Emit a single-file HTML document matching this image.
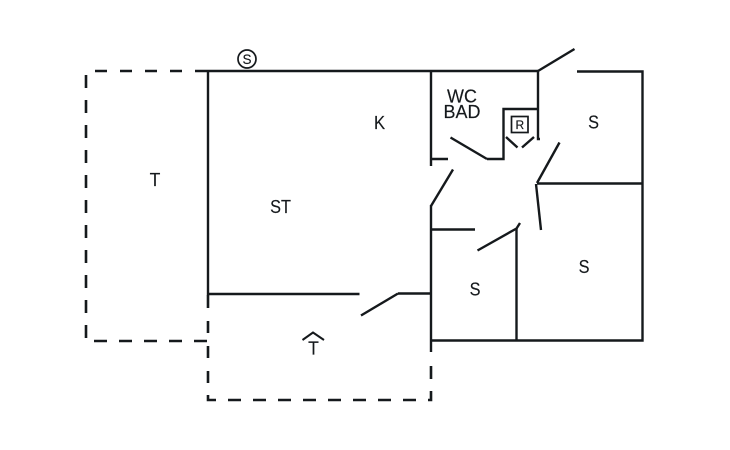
<!DOCTYPE html>
<html>
<head>
<meta charset="utf-8">
<style>
html,body{margin:0;padding:0;background:#fff;width:730px;height:450px;overflow:hidden}
svg{display:block}
text{font-family:"Liberation Sans",sans-serif;fill:#15191c;stroke:#15191c;stroke-width:.15;text-anchor:middle}
.w{stroke:#15191c;stroke-width:2.4;fill:none;stroke-linecap:butt}
.d{stroke:#15191c;stroke-width:2.6;fill:none}
</style>
</head>
<body>
<svg width="730" height="450" viewBox="0 0 730 450" xmlns="http://www.w3.org/2000/svg">
<!-- walls -->
<path class="w" d="M208 71H538V139H540"/>
<path class="w" d="M208 71V294H359.500"/>
<path class="w" d="M431 71V166M431 159H448M431 205V352M431 229.500H475M398 293.500H431"/>
<path class="w" d="M577 71.500H642.500V340.500H431"/>
<path class="w" d="M537 183.500H642M516.500 228V340"/>
<path class="w" d="M538 109H503.500V159H487"/>
<!-- door leaves -->
<path class="w" d="M538 71L574.500 49"/>
<path class="w" d="M450.500 137.500L487 159"/>
<path class="w" d="M431 206L453 169.500"/>
<path class="w" d="M537 183L559.500 142.500"/>
<path class="w" d="M536 184L541 230"/>
<path class="w" d="M477.500 250.500L516.500 228.500L520 223"/>
<path class="w" d="M361 315.500L398 293.500"/>
<path class="w" d="M506 137L517.500 147.500M522 147.500L534 137"/>
<!-- R box -->
<rect x="511.500" y="116.500" width="16.500" height="16" fill="none" stroke="#15191c" stroke-width="1.700"/>
<text x="519.800" y="129" font-size="12">R</text>
<!-- dashed terrace -->
<path class="d" d="M95 71H107M120 71H132M145 71H157M170 71H182M195 71H208"/>
<path class="d" d="M86 75V88M86 100V113M86 125V138M86 150V163M86 175V188M86 200V213M86 225V238M86 250V263M86 275V288M86 300V313M86 325V338"/>
<path class="d" d="M94 341H107M119 341H132M144 341H157M169 341H182M194 341H207"/>
<path class="d" d="M208 295V308M208 321V333M208 346V358M208 371V383M208 395V400H216"/>
<path class="d" d="M228 400H241M253 400H266M278 400H291M303 400H316M328 400H341M353 400H366M378 400H391M403 400H416M428 400H431V391M431 379V366"/>
<!-- S circle -->
<circle cx="247" cy="59" r="9" fill="none" stroke="#15191c" stroke-width="1.700"/>
<text x="247" y="64" font-size="13.500">S</text>
<!-- arrow -->
<path d="M302.500 340L313 332.500L324 340" fill="none" stroke="#15191c" stroke-width="2"/>
<!-- labels -->
<text transform="translate(313.500 354.500) scale(.95 1)" font-size="18.500">T</text>
<text transform="translate(155 186) scale(.95 1)" font-size="18.500">T</text>
<text transform="translate(280.500 213) scale(.88 1)" font-size="18.500">ST</text>
<text transform="translate(379.500 129) scale(.9 1)" font-size="18.500">K</text>
<text transform="translate(462 102.500) scale(.97 1)" font-size="18.500">WC</text>
<text transform="translate(462 118) scale(.97 1)" font-size="18.500">BAD</text>
<text transform="translate(593.500 128.500) scale(.88 1)" font-size="18.500">S</text>
<text transform="translate(584 273) scale(.88 1)" font-size="18.500">S</text>
<text transform="translate(475 295.500) scale(.88 1)" font-size="18.500">S</text>
</svg>
</body>
</html>
